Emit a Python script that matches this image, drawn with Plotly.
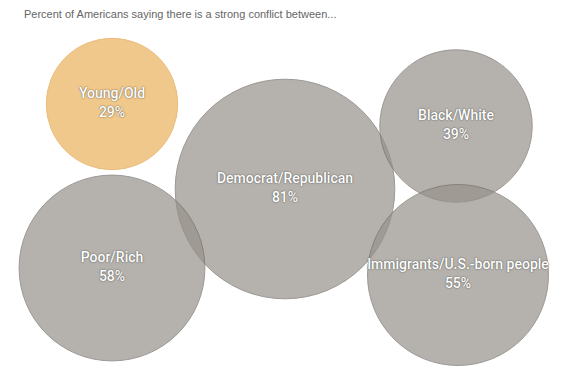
import math
import plotly.graph_objects as go

# ---- data ----
groups = ["Young/Old", "Democrat/Republican", "Black/White", "Poor/Rich", "Immigrants/U.S.-born people"]
percent = [29, 81, 39, 58, 55]
title_text = "Percent of Americans saying there is a strong conflict between..."

# ---- layout (pixel coordinates of bubble centres) ----
center_x = [112, 285, 456, 112, 458]
center_y = [104, 189, 126, 268, 275]

SCALE = 24.4  # diameter per sqrt(percent)
sizes = [SCALE * math.sqrt(v) for v in percent]

fill = ["rgb(234,178,91)" if g == "Young/Old" else "rgb(150,145,138)" for g in groups]
edge = ["rgb(226,160,70)" if g == "Young/Old" else "rgb(115,110,105)" for g in groups]
labels = [f"{g}<br>{v}%" for g, v in zip(groups, percent)]

PAGE_OFFSET = 8  # default body margin of the page

fig = go.Figure()
fig.add_trace(go.Scatter(
    x=center_x, y=center_y,
    mode="markers+text",
    text=labels,
    textposition="middle center",
    textfont=dict(family="Roboto, Liberation Sans, Arial, sans-serif", size=14, weight=500,
                  color="white",
                  shadow="0px 0px 1.5px rgba(40,40,40,0.9)"),
    marker=dict(size=sizes, sizemode="diameter", color=fill, opacity=0.7,
                line=dict(color=edge, width=1)),
    hoverinfo="skip",
    showlegend=False,
    cliponaxis=False,
))

fig.add_annotation(
    text=title_text, xref="x", yref="y", x=22, y=14,
    xanchor="left", yanchor="middle", showarrow=False,
    font=dict(family="Liberation Sans, Arial, sans-serif", size=11, color="#666666"),
)

fig.update_layout(
    width=570, height=385,
    margin=dict(l=0, r=0, t=0, b=0),
    paper_bgcolor="white", plot_bgcolor="white",
    xaxis=dict(range=[PAGE_OFFSET, 570 + PAGE_OFFSET], visible=False, fixedrange=True),
    yaxis=dict(range=[385 + PAGE_OFFSET, PAGE_OFFSET], visible=False, fixedrange=True),
)

fig.write_html("out.html")
